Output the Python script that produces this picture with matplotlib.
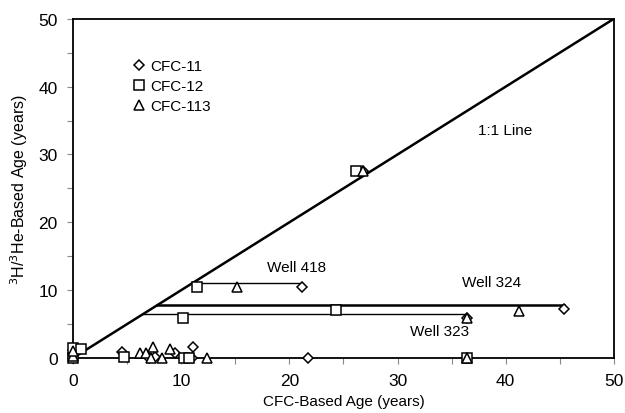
import matplotlib
matplotlib.use('Agg')
import matplotlib.pyplot as plt
from matplotlib.ticker import MultipleLocator

plt.rcParams['font.family'] = ['Liberation Sans', 'DejaVu Sans']

# CFC-11 (diamonds)
cfc11_x = [0, 0, 0, 4.5, 7.0, 7.6, 9.4, 11.0, 11.1, 21.7, 36.4, 26.8, 21.2, 36.4, 45.4]
cfc11_y = [0, 0.6, 1.2, 0.9, 0, 0.2, 0.7, 0, 1.6, 0, 0, 27.6, 10.5, 5.9, 7.2]
# CFC-12 (squares)
cfc12_x = [0, 0, 0.7, 4.7, 10.3, 10.7, 36.4, 26.2, 11.5, 10.2, 24.3]
cfc12_y = [0, 1.5, 1.3, 0.1, 0, 0, 0, 27.6, 10.5, 5.9, 7.1]
# CFC-113 (triangles)
cfc113_x = [0, 0, 6.2, 6.7, 7.4, 7.2, 8.2, 9.0, 12.4, 36.4, 26.8, 15.2, 41.2, 36.4]
cfc113_y = [0.3, 1.0, 0.7, 0.7, 1.6, 0, 0, 1.3, 0, 0, 27.6, 10.5, 6.9, 5.9]

# well connector lines: (x start, x end, y)
wells = {'Well 418': (11.0, 21.3, 11.0),
         'Well 324': (7.8, 45.4, 7.8),
         'Well 323': (6.5, 36.4, 6.5)}
well_lw = {'Well 418': 1.0, 'Well 324': 1.8, 'Well 323': 1.0}
well_labels = {'Well 418': (20.7, 13.4), 'Well 324': (38.7, 11.2), 'Well 323': (33.9, 4.0)}

fig = plt.figure(figsize=(6.25, 4.14), dpi=100)
ax = fig.add_axes([0.117, 0.133, 0.865, 0.819])

ax.plot([0, 50], [0, 50], color='black', lw=1.8, zorder=2)
ax.text(40, 33.6, '1:1 Line', ha='center', va='center', fontsize=11)

for name, (x0, x1, y) in wells.items():
    ax.plot([x0, x1], [y, y], color='black', lw=well_lw[name], zorder=2)
    lx, ly = well_labels[name]
    ax.text(lx, ly, name, ha='center', va='center', fontsize=11)

mk = dict(linestyle='none', markerfacecolor='white', markeredgecolor='black',
          markeredgewidth=1.1, clip_on=False, zorder=3)
ax.plot(cfc11_x, cfc11_y, marker='D', markersize=5.5, label='CFC-11', **mk)
ax.plot(cfc12_x, cfc12_y, marker='s', markersize=7.5, label='CFC-12', **mk)
ax.plot(cfc113_x, cfc113_y, marker='^', markersize=7.5, label='CFC-113', **mk)

ax.set_xlim(0, 50)
ax.set_ylim(0, 50)
ax.xaxis.set_major_locator(MultipleLocator(10))
ax.xaxis.set_minor_locator(MultipleLocator(5))
ax.yaxis.set_major_locator(MultipleLocator(10))
ax.yaxis.set_minor_locator(MultipleLocator(5))
ax.tick_params(which='both', direction='out', length=4, width=0.8, color='#888888',
               labelsize=12.5, pad=7)
for s in ax.spines.values():
    s.set_linewidth(1.3)

ax.set_xlabel('CFC-Based Age (years)', fontsize=11, labelpad=4)
ax.set_ylabel(r'$^{3}$H/$^{3}$He-Based Age (years)', fontsize=11.5, labelpad=6)

ax.legend(loc='upper left', bbox_to_anchor=(0.1, 0.9), frameon=False, fontsize=11,
          handlelength=0.8, handletextpad=0.3, labelspacing=0.4, borderaxespad=0)

fig.savefig('out.png', dpi=100)
